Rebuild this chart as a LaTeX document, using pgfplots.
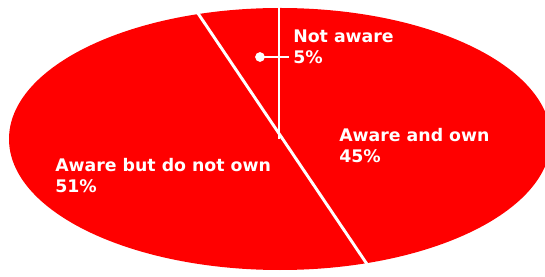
\documentclass[border=0pt]{standalone}
\usepackage{pgfplots}
\pgfplotsset{compat=1.18}
\usepackage{fontspec}
\setmainfont{DejaVu Sans}
\definecolor{pie}{RGB}{255,0,0}
\begin{document}
\begin{tikzpicture}
\begin{axis}[
  scale only axis, width=408.75pt, height=207.75pt,
  xmin=0, xmax=545, ymin=0, ymax=277, y dir=reverse,
  hide axis, clip=true,
]
% pie: Not aware 5%, Aware and own 45%, Aware but do not own 51%
\fill[pie] (axis cs:280,139) ellipse [x radius=271, y radius=131];
% slice boundaries
\addplot[white, line width=2.2pt] coordinates {(279,139) (279,0)};
\addplot[white, line width=2.2pt] coordinates {(189,0) (375,276)};
% leader for the small slice
\addplot[white, line width=1.5pt] coordinates {(260,57) (289,57)};
\addplot[white, only marks, mark=*, mark size=3.4pt] coordinates {(260,57)};
\node[anchor=base west, inner sep=0, text=white, font=\bfseries\fontsize{13}{16.2}\selectfont, align=left]
  at (axis cs:293,64) {Not aware\\5\%};
\node[anchor=base west, inner sep=0, text=white, font=\bfseries\fontsize{13}{16.2}\selectfont, align=left]
  at (axis cs:339,163) {Aware and own\\45\%};
\node[anchor=base west, inner sep=0, text=white, font=\bfseries\fontsize{13}{16.2}\selectfont, align=left]
  at (axis cs:55,193) {Aware but do not own\\51\%};
\end{axis}
\pgfresetboundingbox
\useasboundingbox (current axis.south west) rectangle (current axis.north east);
\end{tikzpicture}
\end{document}
